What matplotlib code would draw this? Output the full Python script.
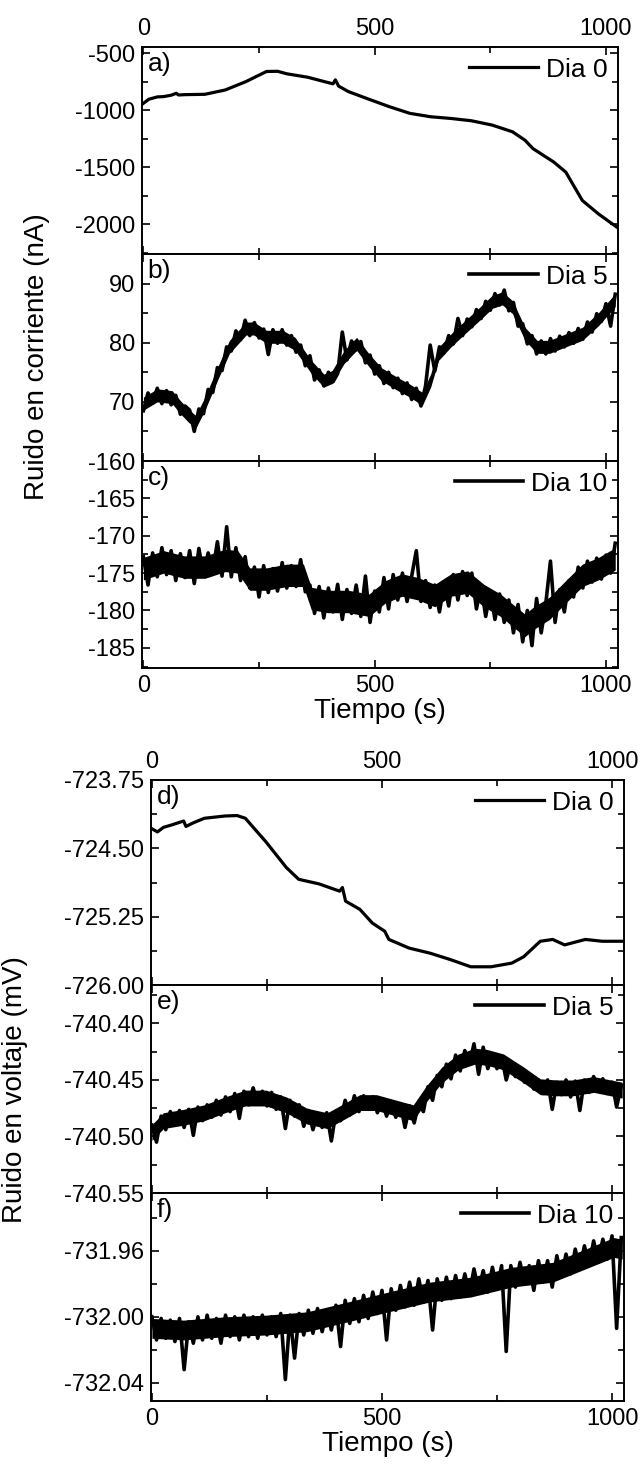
import numpy as np
import matplotlib
matplotlib.use("Agg")
import matplotlib.pyplot as plt
from matplotlib.ticker import MultipleLocator, FormatStrFormatter

plt.rcParams['font.family'] = ['Liberation Sans', 'DejaVu Sans']
plt.rcParams['font.size'] = 17
plt.rcParams['axes.unicode_minus'] = False

# ---- data ----
# a) current, Dia 0 (smooth)
t_a = [0, 12, 30, 44, 60, 71, 76, 90, 133, 177, 222, 266, 290, 310, 355, 399, 410, 415,
       422, 443, 488, 532, 576, 621, 665, 709, 754, 798, 825, 842, 887, 913, 949, 984, 1024]
i_a = [-941, -905, -885, -882, -870, -853, -868, -865, -862, -824, -750, -662, -660, -682,
       -712, -759, -770, -735, -790, -838, -906, -971, -1029, -1059, -1074, -1094, -1132,
       -1191, -1265, -1338, -1456, -1544, -1794, -1912, -2029]

# noisy series are sampled every 10 s from 0 to 1020 s
t_noisy = np.arange(0, 1021, 10)

# b) current, Dia 5
i_b = [68.5, 71.5, 69.9, 72.3, 69.7, 71.9, 69.5, 71.1, 67.9, 69.3,
       68.6, 65.0, 68.8, 68.0, 72.1, 71.6, 75.8, 75.3, 79.3, 78.6,
       82.0, 80.5, 83.8, 81.2, 83.4, 80.8, 82.3, 78.0, 82.2, 79.9,
       82.2, 79.6, 81.2, 78.4, 79.6, 76.1, 77.8, 73.7, 75.4, 72.7,
       75.0, 73.4, 74.8, 81.8, 77.1, 80.3, 78.8, 80.2, 76.6, 77.9,
       74.7, 76.1, 73.1, 75.0, 72.4, 74.0, 71.4, 73.2, 70.4, 72.3,
       69.3, 72.7, 79.6, 75.2, 79.3, 78.3, 81.2, 79.8, 84.1, 81.2,
       84.0, 82.7, 85.6, 84.1, 87.0, 85.5, 88.3, 86.4, 88.9, 85.4,
       86.8, 82.8, 83.2, 79.8, 81.2, 78.1, 80.3, 78.1, 80.7, 78.6,
       81.1, 79.3, 81.7, 79.9, 82.4, 80.6, 83.5, 81.8, 84.9, 83.6,
       86.6, 82.8, 88.2]
# edges of the dense noise band of b)
band_t_b = [0, 30, 62, 80, 97, 113, 133, 160, 186, 222, 239, 266, 301, 328, 363, 390, 408, 434,
            461, 488, 514, 550, 576, 603, 621, 638, 665, 692, 727, 754, 776, 798, 825, 851,
            878, 913, 949, 984, 1020]
band_hi_b = [70.8, 72.2, 71.9, 70.2, 68.8, 67.7, 70.8, 75.8, 80.4, 83.5, 83.5, 82.1, 82.1, 80.9,
             77.0, 74.7, 75.3, 78.7, 80.9, 78.1, 75.8, 74.1, 73.0, 71.6, 74.7, 79.2, 81.5, 83.5,
             86.0, 88.0, 88.6, 87.1, 82.6, 80.4, 80.4, 81.5, 82.6, 85.1, 88.3]
band_lo_b = [68.6, 70.0, 69.7, 68.0, 66.6, 65.5, 68.6, 73.6, 78.2, 81.3, 81.3, 79.9, 79.9, 78.7,
             74.8, 72.5, 73.1, 76.5, 78.7, 75.9, 73.6, 71.9, 70.8, 69.4, 72.5, 77.0, 79.3, 81.3,
             83.8, 85.8, 86.4, 84.9, 80.4, 78.2, 78.2, 79.3, 80.4, 82.9, 86.1]

# c) current, Dia 10
i_c = [-172.8, -176.6, -172.3, -175.5, -171.6, -175.2, -172.0, -176.0, -172.4, -175.6,
       -172.0, -176.4, -171.7, -175.3, -172.3, -174.8, -170.8, -175.4, -168.8, -175.5,
       -171.6, -176.0, -172.8, -177.0, -174.2, -178.2, -174.0, -177.6, -174.4, -177.4,
       -173.6, -177.0, -174.0, -176.8, -173.2, -177.5, -176.6, -180.4, -176.8, -181.0,
       -177.0, -180.2, -176.5, -181.2, -177.2, -180.4, -176.6, -180.8, -175.4, -181.6,
       -177.4, -180.2, -175.6, -179.8, -175.2, -178.6, -175.0, -178.8, -175.4, -172.0,
       -178.8, -176.0, -179.6, -176.6, -180.2, -176.4, -179.4, -175.2, -178.6, -174.8,
       -178.0, -175.0, -179.8, -176.6, -180.8, -177.4, -181.2, -177.8, -181.6, -178.6,
       -183.0, -179.2, -184.2, -180.0, -184.7, -178.4, -183.0, -179.0, -173.4, -181.6,
       -177.2, -180.2, -176.0, -178.2, -174.2, -177.0, -173.4, -176.2, -173.0, -175.8,
       -172.6, -175.0, -171.0]
band_t_c = [0, 44, 89, 133, 177, 204, 230, 266, 310, 346, 363, 399, 443, 488, 523, 559, 594,
            630, 665, 701, 736, 772, 807, 825, 842, 878, 913, 949, 984, 1020]
band_hi_c = [-172.9, -172.0, -172.7, -172.7, -171.8, -172.0, -174.3, -174.3, -173.8, -173.8,
             -176.9, -177.3, -177.3, -177.8, -176.0, -175.1, -175.6, -176.5, -175.1, -174.7,
             -176.5, -177.8, -179.6, -180.5, -179.6, -178.2, -176.0, -173.8, -172.9, -171.6]
band_lo_c = [-175.9, -175.0, -175.7, -175.7, -174.8, -175.0, -177.3, -177.3, -176.8, -176.8,
             -179.9, -180.3, -180.3, -180.8, -179.0, -178.1, -178.6, -179.5, -178.1, -177.7,
             -179.5, -180.8, -182.6, -183.5, -182.6, -181.2, -179.0, -176.8, -175.9, -174.6]

# d) voltage, Dia 0 (smooth)
t_d = [0, 12, 25, 45, 69, 74, 90, 114, 159, 185, 203, 248, 292, 319, 363, 408, 414,
       421, 452, 479, 506, 515, 559, 604, 648, 693, 737, 782, 808, 844, 871, 897, 942,
       979, 1022]
v_d = [-724.285, -724.32, -724.27, -724.24, -724.20, -724.26, -724.22, -724.17, -724.145,
       -724.14, -724.17, -724.43, -724.71, -724.84, -724.89, -724.97, -724.93, -725.08,
       -725.17, -725.32, -725.41, -725.50, -725.595, -725.65, -725.72, -725.80, -725.80,
       -725.76, -725.69, -725.52, -725.50, -725.56, -725.50, -725.52, -725.52]

# e) voltage, Dia 5
v_e = [-740.490, -740.505, -740.482, -740.494, -740.478, -740.490, -740.477, -740.492, -740.476, -740.499,
       -740.474, -740.486, -740.472, -740.483, -740.468, -740.481, -740.465, -740.478, -740.462, -740.484,
       -740.460, -740.472, -740.457, -740.471, -740.460, -740.473, -740.461, -740.476, -740.465, -740.493,
       -740.468, -740.482, -740.472, -740.491, -740.477, -740.494, -740.480, -740.492, -740.479, -740.504,
       -740.478, -740.486, -740.468, -740.481, -740.464, -740.478, -740.464, -740.476, -740.465, -740.479,
       -740.468, -740.482, -740.469, -740.483, -740.471, -740.492, -740.473, -740.488, -740.470, -740.478,
       -740.456, -740.468, -740.446, -740.456, -740.436, -740.449, -740.428, -740.442, -740.424, -740.436,
       -740.418, -740.445, -740.421, -740.440, -740.428, -740.440, -740.429, -740.450, -740.436, -740.447,
       -740.439, -740.452, -740.446, -740.458, -740.450, -740.462, -740.450, -740.476, -740.452, -740.463,
       -740.450, -740.465, -740.451, -740.477, -740.450, -740.461, -740.447, -740.459, -740.449, -740.462,
       -740.452, -740.474, -740.455]
band_t_e = [0, 25, 69, 114, 159, 203, 248, 292, 337, 381, 417, 452, 488, 532, 568, 595, 630,
            666, 702, 728, 764, 808, 844, 880, 915, 960, 1022]
band_hi_e = [-740.4895, -740.479, -740.476, -740.472, -740.465, -740.459, -740.459, -740.465,
             -740.475, -740.479, -740.471, -740.463, -740.463, -740.468, -740.472, -740.456,
             -740.4386, -740.427, -740.422, -740.423, -740.427, -740.4386, -740.449, -740.450,
             -740.450, -740.447, -740.452]
band_lo_e = [-740.5035, -740.493, -740.490, -740.486, -740.479, -740.473, -740.473, -740.479,
             -740.489, -740.493, -740.485, -740.477, -740.477, -740.482, -740.486, -740.470,
             -740.4526, -740.441, -740.436, -740.437, -740.441, -740.4526, -740.463, -740.464,
             -740.464, -740.461, -740.466]

# f) voltage, Dia 10
v_f = [-732.000, -732.014, -732.001, -732.013, -732.002, -732.015, -732.001, -732.032, -732.003, -732.016,
       -732.000, -732.014, -731.999, -732.013, -732.001, -732.016, -731.999, -732.012, -732.000, -732.014,
       -731.999, -732.012, -732.000, -732.013, -731.999, -732.011, -732.000, -732.012, -731.998, -732.038,
       -731.999, -732.025, -731.998, -732.011, -731.996, -732.010, -731.995, -732.009, -731.996, -732.008,
       -731.993, -732.018, -731.990, -732.004, -731.989, -732.003, -731.987, -732.001, -731.985, -731.998,
       -731.984, -732.014, -731.983, -731.996, -731.981, -731.994, -731.979, -731.993, -731.977, -731.991,
       -731.978, -732.008, -731.977, -731.990, -731.976, -731.989, -731.975, -731.988, -731.974, -731.986,
       -731.971, -731.984, -731.972, -731.985, -731.970, -731.983, -731.969, -732.021, -731.969, -731.982,
       -731.967, -731.980, -731.969, -731.984, -731.966, -731.979, -731.966, -731.982, -731.963, -731.976,
       -731.962, -731.974, -731.959, -731.971, -731.957, -731.969, -731.954, -731.967, -731.953, -731.965,
       -731.951, -732.007, -731.952]
band_t_f = [0, 69, 159, 248, 337, 426, 514, 604, 693, 782, 871, 942, 1004, 1022]
band_hi_f = [-732.001, -732.002, -732.000, -731.999, -731.997, -731.991, -731.985, -731.979,
             -731.976, -731.970, -731.967, -731.959, -731.952, -731.953]
band_lo_f = [-732.013, -732.014, -732.012, -732.011, -732.009, -732.003, -731.997, -731.991,
             -731.988, -731.982, -731.979, -731.971, -731.964, -731.965]

W, H = 640, 1473
fig = plt.figure(figsize=(W / 100, H / 100), dpi=100)


def add_ax(left, top, right, bottom):
    return fig.add_axes([left / W, 1 - bottom / H, (right - left) / W, (bottom - top) / H])


def style(ax, xlim, ylim, ymajor, letter, top_labels=False, bottom_labels=False, yfmt=None):
    ax.set_xlim(*xlim)
    ax.set_ylim(*ylim)
    ax.xaxis.set_major_locator(MultipleLocator(500))
    ax.xaxis.set_minor_locator(MultipleLocator(250))
    ax.yaxis.set_major_locator(MultipleLocator(ymajor))
    ax.yaxis.set_minor_locator(MultipleLocator(ymajor / 2))
    ax.tick_params(which='both', direction='in', top=True, right=True, width=1.2,
                   labeltop=top_labels, labelbottom=bottom_labels, pad=5, labelsize=17)
    ax.tick_params(which='major', length=6)
    ax.tick_params(which='minor', length=4)
    for s in ax.spines.values():
        s.set_linewidth(1.4)
    if yfmt:
        ax.yaxis.set_major_formatter(yfmt)
    ax.text(0.012, 0.975, letter, transform=ax.transAxes, ha='left', va='top', fontsize=19)
    ax.legend(loc='upper right', frameon=False, handlelength=2.6, handletextpad=0.3,
              borderaxespad=0.1, borderpad=0.3, fontsize=19)


lw = 2.3
lw_noise = 2.6
# ---- current group ----
ax_a = add_ax(142, 47, 618, 254)
ax_a.plot(t_a, i_a, color='black', lw=lw, label='Dia 0')
style(ax_a, (-3, 1026), (-2263, -447), 500, 'a)', top_labels=True)

ax_b = add_ax(142, 254, 618, 461)
ax_b.fill_between(band_t_b, band_lo_b, band_hi_b, color='black', lw=0)
ax_b.plot(t_noisy, i_b, color='black', lw=lw_noise, label='Dia 5')
style(ax_b, (-3, 1026), (60, 95), 10, 'b)')
ax_b.set_yticks([70, 80, 90])

ax_c = add_ax(142, 461, 618, 668)
ax_c.fill_between(band_t_c, band_lo_c, band_hi_c, color='black', lw=0)
ax_c.plot(t_noisy, i_c, color='black', lw=lw_noise, label='Dia 10')
style(ax_c, (-3, 1026), (-187.7, -160), 5, 'c)', bottom_labels=True)
ax_c.set_xlabel('Tiempo (s)', fontsize=20, labelpad=1)

fig.text(37 / W, 1 - 357 / H, 'Ruido en corriente (nA)', rotation=90, ha='center', va='center', fontsize=20)

# ---- voltage group ----
fmt2 = FormatStrFormatter('%.2f')
ax_d = add_ax(151, 780, 624, 985)
ax_d.plot(t_d, v_d, color='black', lw=lw, label='Dia 0')
style(ax_d, (-2, 1026), (-726.0, -723.75), 0.75, 'd)', top_labels=True, yfmt=fmt2)

ax_e = add_ax(151, 985, 624, 1193)
ax_e.fill_between(band_t_e, band_lo_e, band_hi_e, color='black', lw=0)
ax_e.plot(t_noisy, v_e, color='black', lw=lw_noise, label='Dia 5')
style(ax_e, (-2, 1026), (-740.55, -740.366), 0.05, 'e)', yfmt=fmt2)

ax_f = add_ax(151, 1193, 624, 1401)
ax_f.fill_between(band_t_f, band_lo_f, band_hi_f, color='black', lw=0)
ax_f.plot(t_noisy, v_f, color='black', lw=lw_noise, label='Dia 10')
style(ax_f, (-2, 1026), (-732.051, -731.925), 0.04, 'f)', bottom_labels=True, yfmt=fmt2)
ax_f.set_xlabel('Tiempo (s)', fontsize=20, labelpad=1)

fig.text(15 / W, 1 - 1090 / H, 'Ruido en voltaje (mV)', rotation=90, ha='center', va='center', fontsize=20)

fig.savefig('out.png', dpi=100)
